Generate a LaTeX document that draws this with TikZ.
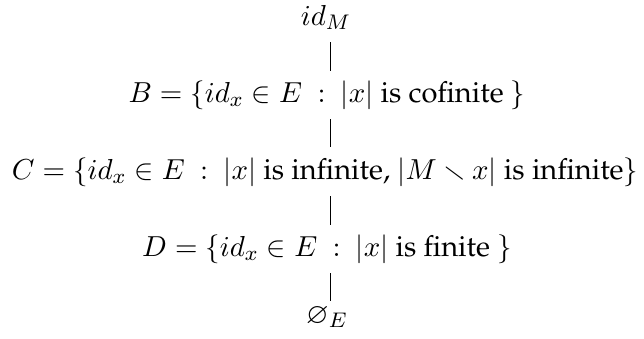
\documentclass[tikz,border=0pt]{standalone}
\usepackage[T1]{fontenc}
\renewcommand{\rmdefault}{ppl}
\usepackage{amssymb}
\usetikzlibrary{calc}
\begin{document}
\begin{tikzpicture}[x=0.3788pt,y=-0.3788pt,
  lvl/.style={anchor=base,inner sep=0pt,font=\fontsize{11}{13}\selectfont},
  link/.style={draw=black,line width=0.3pt}]
\useasboundingbox (0,0) rectangle (644,338);
\node[lvl] (top) at (326,25) {$id_M$};
\node[lvl] (b) at (327,102) {$B=\{id_x\in E\ :\ |x|$ is cofinite $\}$};
\node[lvl] (c) at (325,179) {$C=\{id_x\in E\ :\ |x|$ is infinite, $|M\smallsetminus x|$ is infinite$\}$};
\node[lvl] (d) at (327,256) {$D=\{id_x\in E\ :\ |x|$ is finite $\}$};
\node[lvl] (bot) at (327,323) {$\varnothing_E$};
\draw[link] ($(top.base)+(4,17)$) -- ($(b.base)+(3,-31)$);
\draw[link] ($(b.base)+(3,17)$) -- ($(c.base)+(5,-32)$);
\draw[link] ($(c.base)+(5,17)$) -- ($(d.base)+(3,-31)$);
\draw[link] ($(d.base)+(3,17)$) -- ($(bot.base)+(3,-22)$);
\end{tikzpicture}
\end{document}
